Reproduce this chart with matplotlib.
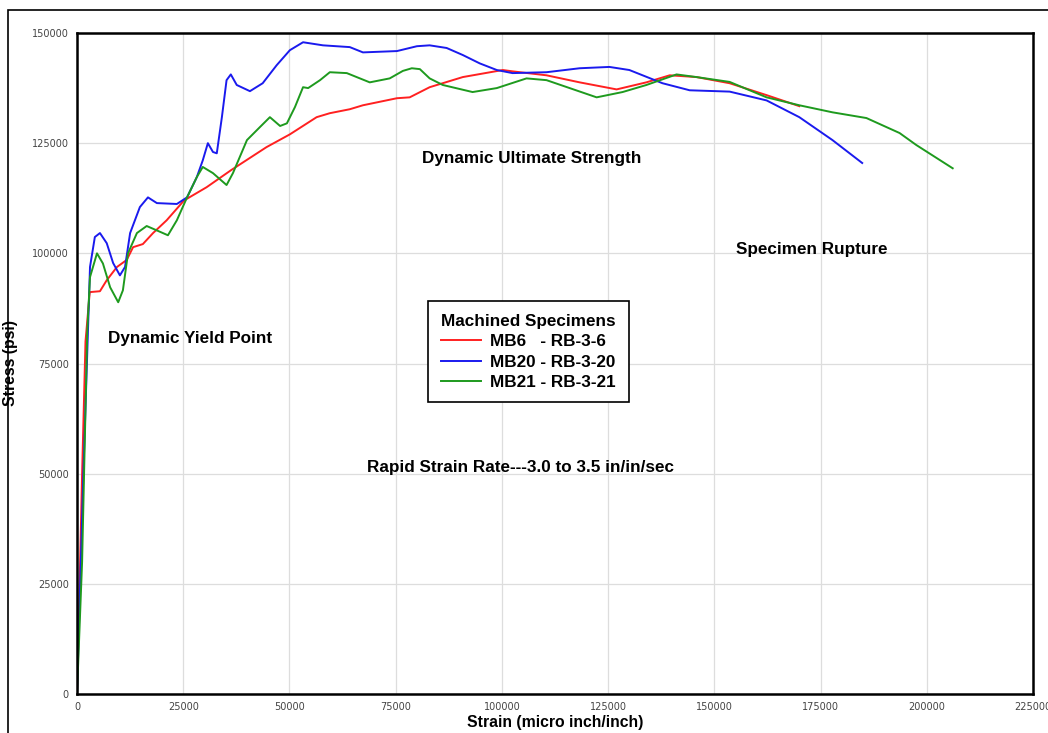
import matplotlib.pyplot as plt
from matplotlib.patches import Rectangle

# strain (micro inch/inch) and stress (psi)
mb6_strain = [0, 500, 1200, 2000, 3000, 5400, 7000, 9400, 11700, 13200, 15500, 17900, 21100,
              25200, 30500, 36300, 44600, 50100, 56400, 59500, 64200, 67300, 75300, 78300,
              83000, 90800, 100200, 102500, 110500, 118300, 127000, 134000, 139500,
              145800, 153600, 162300, 170000]
mb6_stress = [0, 20000, 50000, 80000, 91200, 91400, 93900, 96900, 98500, 101400, 102100, 104600, 107500,
              112000, 115000, 118900, 124100, 127000, 130900, 131800, 132700, 133600, 135200, 135400,
              137700, 140000, 141600, 141300, 140400, 138800, 137200, 138800, 140400,
              140000, 138600, 135900, 133400]

mb20_strain = [0, 1500, 2500, 3060, 4200, 5400, 7000, 8500, 10100, 11300, 12500, 14800, 16700,
               18800, 23500, 25900, 28200, 29600, 30800, 32000, 32900, 34100, 35200, 36200,
               37600, 40700, 43700, 47000, 50100, 53200, 57900, 64200, 67300, 75300, 80000,
               83000, 87000, 90800, 94800, 98800, 102500, 110500, 118300, 125300, 130000,
               137800, 144200, 153600, 162300, 170000, 177800, 184800]
mb20_stress = [0, 50000, 80000, 96900, 103700, 104600, 102300, 97800, 95000, 96900, 104600, 110500, 112700,
               111400, 111200, 112700, 117300, 121100, 125000, 123000, 122700, 130900, 139300, 140600,
               138200, 136800, 138600, 142700, 146100, 147900, 147200, 146800, 145600, 145900, 147000,
               147200, 146600, 145000, 143100, 141600, 140900, 141100, 142000, 142300, 141600,
               138600, 137000, 136700, 134700, 130900, 125700, 120500]

mb21_strain = [0, 1200, 2400, 3060, 4700, 6100, 7800, 9700, 10800, 12000, 14100, 16400, 18800,
               21400, 23500, 25900, 28200, 29600, 32000, 35200, 36700, 40000, 43000, 45400,
               47800, 49400, 51300, 53200, 54400, 57200, 59500, 63500, 68900, 73600, 76700,
               78800, 80700, 83000, 86100, 93100, 98800, 105800, 110500, 122300, 128400,
               134000, 141100, 145800, 153600, 162300, 170000, 177800, 185800, 193600,
               197500, 206100]
mb21_stress = [0, 30000, 81900, 94600, 100000, 97700, 92300, 88900, 91600, 100000, 104600, 106200, 105200,
               104100, 107500, 112700, 117300, 119600, 118200, 115500, 118200, 125700, 128600, 130900,
               128900, 129500, 133200, 137700, 137500, 139300, 141100, 140900, 138800, 139700, 141400,
               142000, 141800, 139700, 138200, 136600, 137500, 139700, 139300, 135400, 136600,
               138200, 140600, 140000, 138900, 135400, 133600, 132000, 130700, 127300,
               124600, 119300]

x_ticks = list(range(0, 225001, 25000))
y_ticks = list(range(0, 150001, 25000))

fig = plt.figure(figsize=(10.48, 7.33), dpi=100)
fig.patches.append(Rectangle((8 / 1048, -0.01), 1.0, 1 - 10 / 733 + 0.01,
                             transform=fig.transFigure, fill=False,
                             edgecolor='black', linewidth=1.2))
ax = fig.add_axes([77 / 1048, 1 - 694 / 733, (1033 - 77) / 1048, (694 - 33) / 733])

ax.plot(mb6_strain, mb6_stress, color='#ff2020', lw=1.4, label='MB6   - RB-3-6')
ax.plot(mb20_strain, mb20_stress, color='#1a1aee', lw=1.4, label='MB20 - RB-3-20')
ax.plot(mb21_strain, mb21_stress, color='#1e9a1e', lw=1.4, label='MB21 - RB-3-21')

ax.set_xlim(0, 225000)
ax.set_ylim(0, 150000)
ax.set_xticks(x_ticks)
ax.set_yticks(y_ticks)
ax.tick_params(length=0, labelsize=7, labelcolor='#444444', pad=6)
ax.grid(True, color='#dddddd', lw=0.9)
ax.set_axisbelow(True)
for s in ax.spines.values():
    s.set_linewidth(1.8)

bold = dict(fontsize=12.3, fontweight='bold', family='Liberation Sans')
lab = dict(fontsize=11.3, fontweight='bold', family='Liberation Sans')
ax.set_xlabel('Strain (micro inch/inch)', labelpad=2, **lab)
ax.set_ylabel('Stress (psi)', labelpad=10, **lab)

ax.text(7300, 80700, 'Dynamic Yield Point', va='center', **bold)
ax.text(81200, 121600, 'Dynamic Ultimate Strength', va='center', **bold)
ax.text(155200, 100900, 'Specimen Rupture', va='center', **bold)
ax.text(68200, 51300, 'Rapid Strain Rate---3.0 to 3.5 in/in/sec', va='center', **bold)

leg = ax.legend(title='Machined Specimens', loc='center', bbox_to_anchor=(0.4723, 0.5174),
                prop={'weight': 'bold', 'size': 12.3, 'family': 'Liberation Sans'},
                title_fontproperties={'weight': 'bold', 'size': 12.3, 'family': 'Liberation Sans'},
                fancybox=False, edgecolor='black', framealpha=1, handlelength=2.3,
                labelspacing=0.3, borderpad=0.75, handletextpad=0.55, borderaxespad=0)
leg.get_frame().set_linewidth(1.2)

fig.savefig('out.png', dpi=100)
